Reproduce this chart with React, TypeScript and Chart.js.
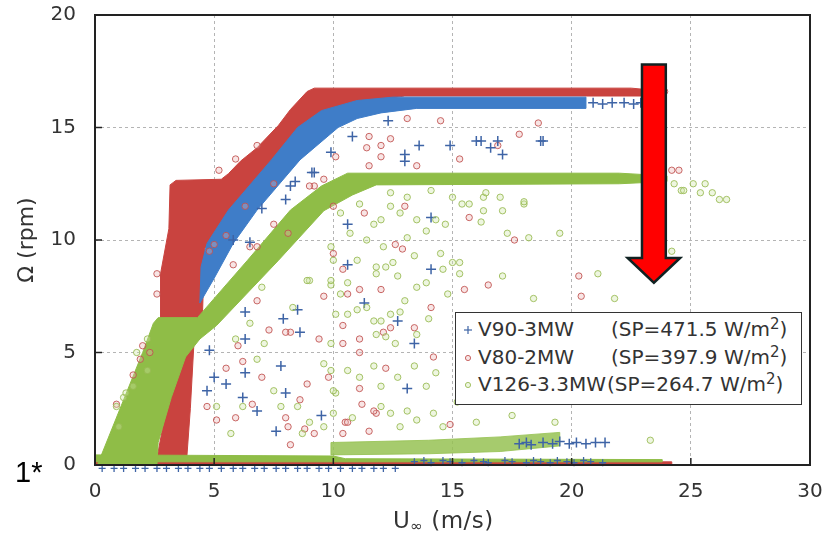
import React, { useEffect, useRef } from 'react';
import { Chart, registerables } from 'chart.js';

Chart.register(...registerables);

// ---------- axes ----------
const X_TICKS = [0, 5, 10, 15, 20, 25, 30];
const Y_TICKS = [0, 5, 10, 15, 20];

// ---------- legend ----------
const SERIES_NAMES = ['V90-3MW', 'V80-2MW', 'V126-3.3MW'];
const SERIES_SP = ['471.5', '397.9', '264.7'];

// ---------- dense bands (upper / lower boundary lines, [x, y]) ----------
const v80FloorUpper = [[0, 0.14], [24.2, 0.14]];
const v80FloorLower = [[0, 0], [24.2, 0]];
const v80StripeUpper = [[2.6, 0.3], [2.9, 2.0], [3.5, 4.3], [3.8, 5.4], [4.15, 5.4]];
const v80StripeLower = [[2.6, 0.3], [3.85, 0.3], [4.0, 2.5], [4.15, 5.4]];
const v80BandUpper = [[2.75, 6.4], [2.75, 8.5], [3.1, 10.5], [3.15, 12.45], [3.4, 12.65], [5.3, 12.7], [5.6, 12.95], [6.1, 13.5], [6.8, 14.1], [7.7, 15.1], [8.2, 15.8], [8.9, 16.6], [9.2, 16.75], [22.5, 16.75], [23.0, 16.7]];
const v80BandLower = [[2.75, 6.4], [4.5, 6.4], [4.6, 9.6], [5.4, 10.9], [7.05, 13.0], [8.7, 14.9], [9.6, 15.7], [11.7, 16.2], [13.0, 16.4], [23.0, 16.4]];

const v90BandUpper = [[4.4, 7.2], [4.45, 8.8], [4.7, 9.85], [5.6, 11.33], [7.4, 13.56], [8.5, 15.0], [9.5, 15.75], [11.0, 16.2], [12.5, 16.35], [20.6, 16.35]];
const v90BandLower = [[4.4, 7.2], [5.0, 8.3], [5.8, 9.85], [6.8, 11.33], [8.6, 13.56], [10.2, 15.0], [11.0, 15.4], [12.0, 15.65], [13.5, 15.85], [20.6, 15.85]];

const v126FloorUpper = [[0, 0.45], [10.0, 0.4], [10.5, 0.28], [23.8, 0.24]];
const v126FloorLower = [[0, 0.14], [23.8, 0.14]];
const v126LowUpper = [[9.9, 1.0], [14.0, 1.1], [17.0, 1.25], [19.5, 1.45]];
const v126LowLower = [[9.9, 0.45], [14.0, 0.5], [17.0, 0.6], [19.5, 0.85]];
const v126BandUpper = [[0.1, 0], [2.0, 5.0], [2.45, 6.3], [2.65, 6.55], [4.3, 6.55], [6.4, 9.1], [8.2, 11.33], [9.5, 12.4], [10.6, 12.97], [22.0, 12.97], [24.0, 12.85]];
const v126BandLower = [[0.1, 0], [2.6, 0], [2.65, 1.0], [3.2, 3.0], [3.8, 4.8], [4.4, 5.6], [5.1, 6.2], [7.7, 9.1], [9.6, 11.3], [10.8, 12.0], [11.8, 12.45], [22.0, 12.5], [24.0, 12.6]];

// ---------- scattered measurements ----------
const v90Points = [
  [13.6, 14.2], [14.9, 14.2], [16.0, 14.4], [16.2, 14.4], [16.6, 14.1], [16.9, 14.4], [17.1, 13.8], [18.8, 14.4],
  [13.0, 13.8], [13.0, 13.5], [12.3, 15.3], [9.1, 13.0], [8.4, 12.6], [8.0, 11.8], [10.6, 10.7], [14.1, 11.0],
  [14.1, 8.7], [10.6, 8.9], [9.2, 13.0], [8.2, 12.4], [6.5, 9.9], [8.5, 6.9], [8.6, 5.9], [6.3, 6.8], [6.3, 5.6],
  [7.9, 6.5], [7.8, 4.4], [6.3, 4.1], [5.0, 3.9], [4.7, 3.3], [8.0, 3.2], [6.8, 2.4], [6.2, 3.0], [7.6, 1.5],
  [4.8, 5.1], [12.7, 6.4], [13.4, 5.4], [13.1, 3.4], [5.5, 3.6], [18.7, 14.4], [11.3, 7.2], [9.5, 2.2],
  [7.0, 11.4], [5.8, 10.0], [9.9, 13.9], [10.8, 14.6],
  [20.9, 16.1], [21.3, 16.05], [21.7, 16.1], [22.2, 16.1], [22.6, 16.05], [22.9, 16.1],
  [17.8, 0.95], [18.1, 1.0], [18.3, 0.9], [18.8, 1.0], [19.2, 0.95], [19.5, 1.05], [19.9, 0.95], [20.2, 1.0],
  [20.6, 0.95], [21.0, 1.0], [21.4, 1.0],
];
const v90FloorPoints = [
  [13.4, 0.15], [13.8, 0.2], [14.1, 0.1], [14.6, 0.2], [14.9, 0.15], [15.4, 0.1], [15.9, 0.2], [16.3, 0.15],
  [16.5, 0.1], [17.2, 0.2], [17.5, 0.15], [18.1, 0.1], [18.4, 0.2], [18.7, 0.15], [19.1, 0.1], [19.4, 0.2],
  [19.8, 0.15], [20.1, 0.1], [20.5, 0.2], [20.8, 0.15], [21.3, 0.1],
  [0.3, -0.15], [0.8, -0.15], [1.2, -0.15], [1.7, -0.15], [2.1, -0.15], [2.6, -0.15], [3.0, -0.15], [3.5, -0.15],
  [3.9, -0.15], [4.4, -0.15], [4.8, -0.15], [5.3, -0.15], [5.8, -0.15], [6.2, -0.15], [6.7, -0.15], [7.1, -0.15],
  [7.6, -0.15], [8.0, -0.15], [8.5, -0.15], [8.9, -0.15], [9.4, -0.15], [9.8, -0.15], [10.3, -0.15], [10.8, -0.15],
  [11.2, -0.15], [11.7, -0.15], [12.1, -0.15], [12.6, -0.15],
];
const v80Points = [
  [13.1, 15.4], [14.5, 15.3], [11.5, 14.6], [12.0, 14.2], [12.4, 14.5], [11.4, 14.1], [12.0, 13.7], [10.1, 13.7],
  [11.5, 13.3], [13.5, 13.3], [15.3, 13.6], [16.9, 14.2], [17.8, 14.7], [18.6, 15.2], [9.6, 12.7], [9.2, 12.4],
  [11.3, 11.2], [15.7, 11.0], [17.6, 10.0], [10.4, 8.7], [12.6, 9.8], [12.9, 9.6], [10.0, 11.5], [9.0, 12.4],
  [5.9, 13.6], [5.2, 13.1], [6.8, 14.2], [7.5, 10.7], [8.1, 10.3], [6.5, 9.7], [6.8, 9.7], [10.0, 9.4], [2.6, 8.5],
  [2.6, 7.6], [5.8, 8.9], [6.8, 7.3], [7.3, 6.0], [8.2, 5.9], [6.2, 4.6], [6.6, 2.7], [4.7, 2.6], [5.1, 2.0],
  [5.9, 2.1], [8.2, 0.9], [9.6, 7.5], [10.6, 7.6], [9.4, 5.6], [10.4, 5.4], [11.1, 5.0], [11.1, 3.4], [10.5, 1.9],
  [10.4, 1.4], [11.8, 2.3], [1.9, 4.7], [1.6, 4.0], [0.9, 2.7], [11.1, 7.8], [12.0, 7.8], [10.4, 6.2], [11.1, 5.6],
  [12.1, 5.9], [12.4, 6.1], [13.4, 6.1], [14.1, 7.0], [14.2, 4.8], [11.2, 2.7], [11.7, 2.4], [10.6, 1.9],
  [11.5, 1.5], [9.2, 1.4], [8.1, 1.7], [8.8, 1.6], [8.6, 2.9], [8.0, 2.1], [14.9, 1.8], [15.5, 7.8], [8.0, 5.9],
  [8.9, 3.6], [20.3, 8.4], [20.4, 7.5], [24.2, 13.1], [24.5, 13.1], [23.1, 16.6], [23.5, 16.65], [23.9, 16.6],
  [6.0, 5.3], [7.0, 3.9], [5.5, 4.3], [13.0, 11.5], [16.5, 8.0], [12.2, 4.3], [9.8, 3.9], [5.0, 9.8], [5.5, 10.2],
  [6.3, 11.5], [7.5, 12.5], [4.8, 9.5], [2.0, 5.3], [2.3, 5.0],
];
const v126Points = [
  [12.4, 12.1], [13.1, 11.9], [14.1, 12.2], [15.0, 11.9], [15.4, 11.6], [15.7, 11.6], [16.3, 11.9], [17.0, 11.9],
  [18.0, 11.6], [16.3, 11.3], [17.1, 11.3], [16.2, 10.8], [17.3, 10.3], [18.2, 10.1], [19.5, 10.3], [13.5, 10.9],
  [13.9, 10.4], [14.3, 10.9], [14.7, 10.7], [12.4, 11.5], [12.8, 11.2], [12.0, 10.9], [11.7, 10.7], [11.1, 11.6],
  [10.3, 11.2], [10.7, 10.3], [11.4, 10.0], [12.1, 9.7], [13.1, 10.1], [13.4, 9.3], [12.5, 9.0], [11.8, 8.8],
  [11.0, 9.1], [9.9, 9.7], [10.0, 9.1], [14.5, 9.4], [15.0, 9.0], [15.3, 8.5], [16.4, 12.1], [18.0, 11.7],
  [17.1, 8.4], [21.1, 8.5], [24.2, 9.5], [24.6, 12.2], [21.8, 7.4], [18.4, 7.4], [24.7, 12.2], [25.4, 12.1],
  [25.9, 12.1], [26.2, 11.8], [26.5, 11.8], [25.6, 12.5], [25.1, 12.5], [24.3, 12.5], [9.0, 8.2], [9.9, 8.0],
  [10.3, 7.6], [10.6, 8.1], [11.8, 8.5], [12.2, 8.8], [12.7, 8.4], [13.5, 7.9], [13.9, 8.1], [14.6, 8.7],
  [15.3, 9.0], [10.1, 6.7], [10.6, 6.7], [11.4, 7.0], [12.0, 6.4], [12.4, 6.7], [12.8, 6.8], [11.8, 5.8],
  [12.2, 5.7], [12.6, 5.4], [13.5, 5.8], [9.9, 5.4], [9.9, 4.2], [10.6, 4.2], [11.1, 3.9], [11.7, 4.4], [12.0, 3.5],
  [12.7, 3.9], [13.4, 4.4], [13.9, 3.5], [14.3, 4.1], [10.1, 3.2], [10.0, 2.3], [10.8, 2.1], [12.0, 2.6],
  [12.4, 2.3], [13.1, 2.4], [13.5, 2.0], [12.8, 1.7], [14.2, 2.3], [14.6, 1.7], [9.6, 1.7], [14.8, 7.6], [5.9, 5.6],
  [7.1, 5.4], [6.8, 4.7], [7.5, 3.3], [7.8, 2.6], [8.5, 2.6], [9.0, 1.9], [8.7, 1.4], [5.7, 1.4], [5.1, 2.6],
  [6.2, 2.6], [9.6, 4.5], [10.0, 3.3], [11.0, 6.9], [11.7, 6.4], [9.9, 8.2], [8.9, 8.2], [1.2, 3.0], [1.6, 3.5],
  [2.2, 4.2], [1.0, 1.7], [0.9, 2.6], [1.3, 3.2], [1.75, 5.0], [2.2, 5.6], [23.3, 1.1], [15.8, 5.0], [16.5, 3.0],
  [15.2, 2.8], [16.9, 6.2], [7.0, 7.9], [8.3, 7.0], [6.5, 6.3], [14.0, 6.5], [15.6, 6.0], [13.0, 7.3], [16.0, 1.9],
  [17.5, 2.2], [18.9, 2.9], [19.3, 1.9],
];

// ---------- annotation arrow (data units) ----------
const ARROW = { x: 23.45, shaftHalf: 0.5, headHalf: 1.1, top: 17.8, neck: 9.2, tip: 8.1 };

// ---------- styles ----------
const RED_BAND = '#c9433f';
const BLUE_BAND = '#3f7dc8';
const GREEN_BAND = '#8fbd47';
const GREEN_LIGHT = 'rgba(150,194,84,0.85)';
const RED_PT = 'rgba(192,80,77,0.85)';
const RED_FILL = 'rgba(235,180,180,0.35)';
const GREEN_PT = 'rgba(150,185,80,0.85)';
const GREEN_FILL = 'rgba(205,228,165,0.35)';
const BLUE_PT = '#3e64a6';
const GRID = 'rgba(140,140,140,0.65)';
const TEXT = '#333';

// band table (drawn bottom to top) built from the boundary arrays
const BANDS = [
  { upper: v80FloorUpper, lower: v80FloorLower, color: RED_BAND },
  { upper: v80StripeUpper, lower: v80StripeLower, color: RED_BAND },
  { upper: v80BandUpper, lower: v80BandLower, color: RED_BAND },
  { upper: v90BandUpper, lower: v90BandLower, color: BLUE_BAND },
  { upper: v126FloorUpper, lower: v126FloorLower, color: GREEN_BAND },
  { upper: v126LowUpper, lower: v126LowLower, color: GREEN_LIGHT },
  { upper: v126BandUpper, lower: v126BandLower, color: GREEN_BAND },
];

const toXY = (arr: number[][]) => arr.map(([x, y]) => ({ x, y }));

const bandPlugin = {
  id: 'bands',
  beforeDatasetsDraw(chart: any) {
    const { ctx, chartArea: a, scales } = chart;
    const sx = scales.x, sy = scales.y;
    ctx.save();
    ctx.beginPath();
    ctx.rect(a.left, a.top, a.right - a.left, a.bottom - a.top);
    ctx.clip();
    for (const b of BANDS) {
      const pts = [...b.upper, ...[...b.lower].reverse()];
      ctx.beginPath();
      pts.forEach(([x, y], i) => {
        const X = sx.getPixelForValue(x), Y = sy.getPixelForValue(y);
        if (i === 0) ctx.moveTo(X, Y); else ctx.lineTo(X, Y);
      });
      ctx.closePath();
      ctx.fillStyle = b.color;
      ctx.strokeStyle = b.color;
      ctx.lineWidth = 1;
      ctx.fill();
      ctx.stroke();
    }
    ctx.restore();
  },
};

const framePlugin = {
  id: 'frameAndArrow',
  afterDatasetsDraw(chart: any) {
    const { ctx, chartArea: a, scales } = chart;
    const sx = scales.x, sy = scales.y;
    ctx.save();
    ctx.strokeStyle = '#222';
    ctx.lineWidth = 1.5;
    for (const v of Y_TICKS) {
      const y = sy.getPixelForValue(v);
      ctx.beginPath(); ctx.moveTo(a.left, y); ctx.lineTo(a.left + 7, y); ctx.stroke();
    }
    for (const v of X_TICKS) {
      const x = sx.getPixelForValue(v);
      ctx.beginPath(); ctx.moveTo(x, a.bottom); ctx.lineTo(x, a.bottom - 7); ctx.stroke();
    }
    ctx.lineWidth = 2;
    ctx.strokeStyle = '#222';
    ctx.strokeRect(a.left, a.top, a.right - a.left, a.bottom - a.top);
    const px = (v: number) => sx.getPixelForValue(v);
    const py = (v: number) => sy.getPixelForValue(v);
    ctx.beginPath();
    ctx.moveTo(px(ARROW.x - ARROW.shaftHalf), py(ARROW.top));
    ctx.lineTo(px(ARROW.x + ARROW.shaftHalf), py(ARROW.top));
    ctx.lineTo(px(ARROW.x + ARROW.shaftHalf), py(ARROW.neck));
    ctx.lineTo(px(ARROW.x + ARROW.headHalf), py(ARROW.neck));
    ctx.lineTo(px(ARROW.x), py(ARROW.tip));
    ctx.lineTo(px(ARROW.x - ARROW.headHalf), py(ARROW.neck));
    ctx.lineTo(px(ARROW.x - ARROW.shaftHalf), py(ARROW.neck));
    ctx.closePath();
    ctx.fillStyle = '#ff0000';
    ctx.fill();
    ctx.lineWidth = 2.5;
    ctx.lineJoin = 'miter';
    ctx.strokeStyle = '#102222';
    ctx.stroke();
    ctx.restore();
  },
};

function buildDatasets() {
  return [
    {
      label: 'V80-2MW', data: toXY(v80Points), pointStyle: 'circle', pointRadius: 3.2, borderWidth: 1,
      pointBorderColor: RED_PT, pointBackgroundColor: RED_FILL, order: 3,
    },
    {
      label: 'V90-3MW', data: toXY(v90Points), pointStyle: 'cross', pointRadius: 5, borderWidth: 1.5,
      pointBorderColor: BLUE_PT, pointBackgroundColor: BLUE_PT, order: 2,
    },
    {
      label: 'V126-3.3MW', data: toXY(v126Points), pointStyle: 'circle', pointRadius: 3.2, borderWidth: 1,
      pointBorderColor: GREEN_PT, pointBackgroundColor: GREEN_FILL, order: 1,
    },
    {
      label: 'V90-3MW floor', data: toXY(v90FloorPoints), pointStyle: 'cross', pointRadius: 3.5, borderWidth: 1.3,
      pointBorderColor: BLUE_PT, pointBackgroundColor: BLUE_PT, order: 0, clip: false,
    },
  ];
}

const LEGEND_MARKERS = ['cross', 'red', 'green'];

function Marker({ kind }: { kind: string }) {
  if (kind === 'cross') {
    return (
      <svg width="12" height="12" style={{ position: 'absolute', left: 6, top: 8 }}>
        <line x1="6" y1="2" x2="6" y2="10" stroke={BLUE_PT} strokeWidth="1.2" />
        <line x1="2" y1="6" x2="10" y2="6" stroke={BLUE_PT} strokeWidth="1.2" />
      </svg>
    );
  }
  const c = kind === 'red' ? RED_PT : GREEN_PT;
  const f = kind === 'red' ? RED_FILL : GREEN_FILL;
  return (
    <svg width="12" height="12" style={{ position: 'absolute', left: 6, top: 8 }}>
      <circle cx="6" cy="6" r="2.6" stroke={c} strokeWidth="1" fill={f} />
    </svg>
  );
}

export default function App() {
  const ref = useRef<HTMLCanvasElement | null>(null);

  useEffect(() => {
    document.body.style.margin = '0';
    const canvas = ref.current;
    if (!canvas) return;
    const tickFont = { family: '"DejaVu Sans", sans-serif', size: 20 };
    const chart = new Chart(canvas, {
      type: 'scatter',
      data: { datasets: buildDatasets() },
      plugins: [bandPlugin, framePlugin],
      options: {
        animation: false,
        responsive: false,
        maintainAspectRatio: false,
        events: [],
        layout: { padding: { left: 0, right: 13, top: 15, bottom: 0 } },
        plugins: { legend: { display: false }, tooltip: { enabled: false } },
        scales: {
          x: {
            type: 'linear', min: 0, max: 30,
            afterBuildTicks: (s: any) => { s.ticks = X_TICKS.map((v) => ({ value: v })); },
            afterFit: (s: any) => { s.height = 71; s.paddingLeft = 0; s.paddingRight = 0; },
            ticks: { font: tickFont, color: TEXT, padding: 15, maxRotation: 0, autoSkip: false },
            grid: { color: GRID, lineWidth: 1, drawTicks: false },
            border: { display: false, dash: [3, 3] },
          },
          y: {
            type: 'linear', min: 0, max: 20,
            afterBuildTicks: (s: any) => { s.ticks = Y_TICKS.map((v) => ({ value: v })); },
            afterFit: (s: any) => { s.width = 95; s.paddingTop = 0; s.paddingBottom = 0; },
            ticks: { font: tickFont, color: TEXT, padding: 19, autoSkip: false },
            grid: { color: GRID, lineWidth: 1, drawTicks: false },
            border: { display: false, dash: [3, 3] },
            title: {
              display: true, text: 'Ω (rpm)', color: TEXT,
              font: { family: '"DejaVu Sans", sans-serif', size: 22 },
              padding: { top: 14, bottom: 0 },
            },
          },
        },
      } as any,
    });
    return () => chart.destroy();
  }, []);

  const rowTops = [3, 31, 58];
  const spLefts = [155, 155, 151];

  return (
    <div style={{ position: 'relative', width: 823, height: 536, overflow: 'hidden', background: '#fff' }}>
      <canvas ref={ref} width={823} height={536} style={{ display: 'block', width: 823, height: 536 }} />
      <div
        style={{
          position: 'absolute', left: 455, top: 312, width: 345, height: 91, border: '1.5px solid #333',
          background: '#fff', fontFamily: '"DejaVu Sans", sans-serif', fontSize: 20, color: TEXT,
        }}
      >
        {SERIES_NAMES.map((name, i) => (
          <div key={name} style={{ position: 'absolute', left: 0, top: rowTops[i], height: 27, width: 345 }}>
            <Marker kind={LEGEND_MARKERS[i]} />
            <span style={{ position: 'absolute', left: 22, top: 0, lineHeight: '27px', whiteSpace: 'nowrap' }}>{name}</span>
            <span style={{ position: 'absolute', left: spLefts[i], top: 0, lineHeight: '27px', whiteSpace: 'nowrap' }}>
              (SP={SERIES_SP[i]} W/m<sup style={{ fontSize: 15, lineHeight: 0, verticalAlign: 7 }}>2</sup>)
            </span>
          </div>
        ))}
      </div>
      <div
        style={{
          position: 'absolute', left: 393, top: 509, fontFamily: '"DejaVu Sans", sans-serif', fontSize: 23,
          lineHeight: '23px', color: TEXT, whiteSpace: 'nowrap', letterSpacing: 0.5,
        }}
      >
        U<sub style={{ fontSize: 15, lineHeight: 0, verticalAlign: -3 }}>∞</sub> (m/s)
      </div>
      <div
        style={{
          position: 'absolute', left: 15, top: 458, fontFamily: '"Liberation Sans", Arial, sans-serif',
          fontSize: 29, lineHeight: '29px', color: '#000', whiteSpace: 'nowrap',
        }}
      >
        1*
      </div>
    </div>
  );
}
